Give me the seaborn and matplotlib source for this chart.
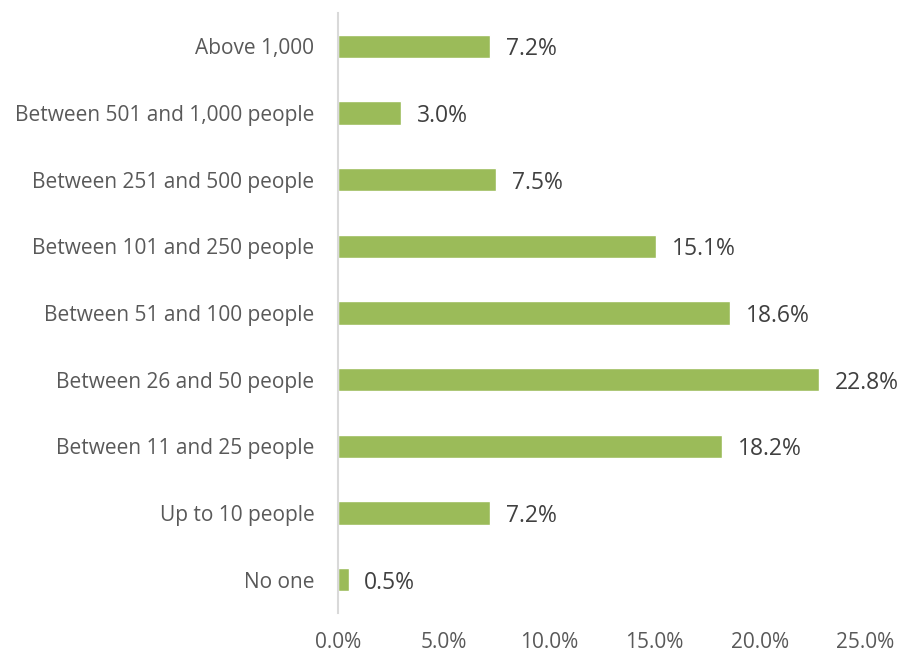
import numpy as np
import pandas as pd
import seaborn as sns
import matplotlib.pyplot as plt

categories = ["Above 1,000", "Between 501 and 1,000 people", "Between 251 and 500 people",
              "Between 101 and 250 people", "Between 51 and 100 people", "Between 26 and 50 people",
              "Between 11 and 25 people", "Up to 10 people", "No one"]
shares = [7.2, 3.0, 7.5, 15.1, 18.6, 22.8, 18.2, 7.2, 0.5]
x_ticks = [0, 5, 10, 15, 20, 25]

df = pd.DataFrame({"size": categories, "share": shares})

sns.set_style("white")
plt.rcParams['font.family'] = ['Open Sans', 'DejaVu Sans']

fig = plt.figure(figsize=(9, 6.54), dpi=100)
ax = fig.add_axes([338 / 900, 1 - 613 / 654, (865 - 338) / 900, 600 / 654])

sns.barplot(data=df, x="share", y="size", color="#9BBB59", width=0.35,
            saturation=1, ax=ax, orient="h")

text_color = "#404040"
for i, v in enumerate(shares):
    ax.text(v + 0.75, i, f"{v:.1f}%", va="center_baseline", ha="left",
            fontsize=16.5, color=text_color)

ax.set_xlim(0, 25)
ax.set_ylim(len(categories) - 0.5, -0.5)
ax.set_xticks(x_ticks)
ax.set_xticklabels([f"{t:.1f}%" for t in x_ticks])
ax.set_xlabel("")
ax.set_ylabel("")
ax.tick_params(axis="x", length=0, pad=14, labelsize=15, labelcolor="#595959")
ax.tick_params(axis="y", length=0, pad=17, labelsize=15, labelcolor="#595959")

for side in ["top", "right", "bottom"]:
    ax.spines[side].set_visible(False)
ax.spines["left"].set_color("#D9D9D9")
ax.spines["left"].set_linewidth(1.5)

fig.savefig("out.png", dpi=100)
